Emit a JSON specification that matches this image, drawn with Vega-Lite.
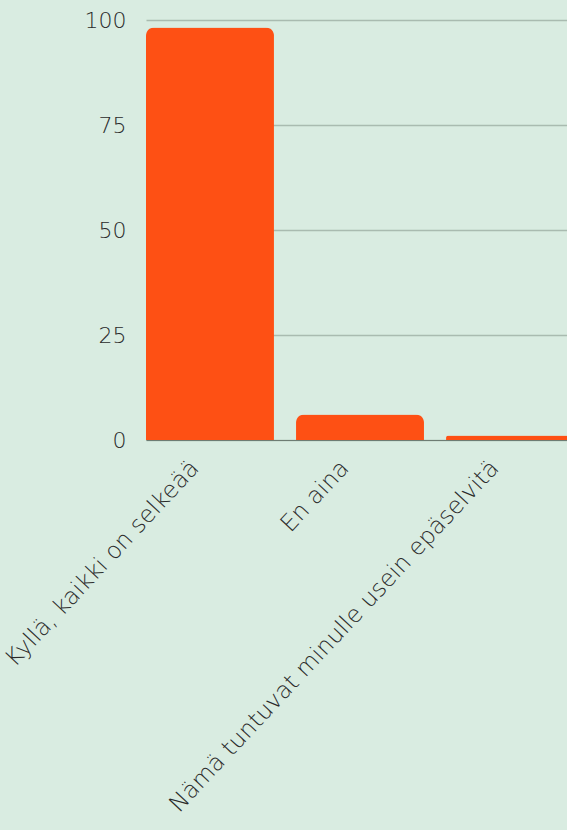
{
  "$schema": "https://vega.github.io/schema/vega-lite/v6.json",
  "autosize": "none",
  "padding": {"left": 146, "top": 20, "right": 0, "bottom": 390},
  "width": 428,
  "height": 420,
  "background": "#d9ece1",
  "data": {"values": [
    {"vastaus": "Kyllä, kaikki on selkeää", "arvo": 98.2},
    {"vastaus": "En aina", "arvo": 6.1},
    {"vastaus": "Nämä tuntuvat minulle usein epäselvitä", "arvo": 1.1}
  ]},
  "config": {
    "view": {"stroke": null},
    "font": "DejaVu Sans"
  },
  "mark": {"type": "bar", "color": "#fe5014", "cornerRadiusTopLeft": 8, "cornerRadiusTopRight": 8},
  "encoding": {
    "x": {
      "field": "vastaus", "type": "nominal", "sort": null,
      "scale": {"paddingInner": 0.147, "paddingOuter": 0},
      "axis": {
        "title": null, "labelAngle": -47, "labelFontSize": 23.5, "labelFontWeight": 200,
        "labelColor": "#2a2a2a", "ticks": false, "labelPadding": 24, "labelOffset": -15,
        "domain": true, "domainColor": "#6e7c73", "labelLimit": 0
      }
    },
    "y": {
      "field": "arvo", "type": "quantitative",
      "scale": {"domain": [0, 100], "nice": false},
      "axis": {
        "title": null, "values": [0, 25, 50, 75, 100], "labelFontSize": 22, "labelFontWeight": 200,
        "labelColor": "#2a2a2a", "ticks": false, "domain": false, "labelPadding": 20,
        "gridColor": "#a9bbb0", "gridWidth": 1.5
      }
    }
  }
}
